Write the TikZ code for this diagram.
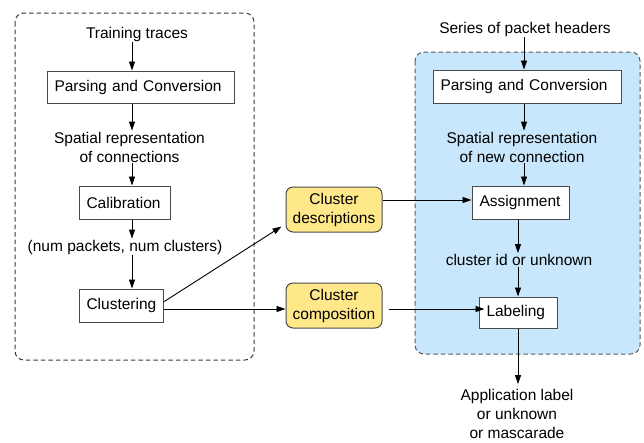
\documentclass[tikz,border=0pt]{standalone}
\usepackage{fontspec}
\setmainfont{Liberation Sans}
\usetikzlibrary{arrows.meta,calc}
\definecolor{boxline}{HTML}{4A4A4A}
\definecolor{noteyellow}{HTML}{FFE88A}
\definecolor{paneblue}{HTML}{C8E6FC}
\definecolor{dashgray}{HTML}{5A5A5A}
\definecolor{dashdark}{HTML}{3A3A3A}
\tikzset{
  % processing step: text set flush left with a fixed left padding
  stepbox/.style={draw=boxline, line width=1pt, fill=white, inner ysep=0pt,
                  inner xsep=7.5pt, align=left, text width=#1-15pt},
  notebox/.style={draw=boxline, line width=1pt, fill=noteyellow, rounded corners=7pt,
                  inner sep=0pt, align=center, minimum width=96pt, minimum height=45pt},
  lbl/.style={align=center, inner sep=1pt},
  arr/.style={-{Triangle[length=9pt,width=6pt]}, line width=0.9pt, black},
  frame/.style={dashed, dash pattern=on 4.5pt off 3pt, line width=1pt, rounded corners=9pt},
}
\begin{document}
\begin{tikzpicture}[x=1pt, y=-1pt, font=\fontsize{15.5}{19}\selectfont]
\useasboundingbox (0,0) rectangle (644,442);

% training pane and classification pane
\draw[frame, draw=dashdark] (15,13) rectangle (254,360);
\draw[frame, draw=dashgray, fill=paneblue] (415,52) rectangle (640,354);

% column guides for the vertical arrows
\coordinate (colL) at (132,0);
\coordinate (colR) at (524,0);
\coordinate (colR2) at (518,0);

% training side
\node[lbl] (trainT) at (137,34) {Training traces};
\node[stepbox=187pt, minimum height=32pt] (pc1) at (140.5,87) {Parsing and Conversion};
\node[lbl] (sp1) at (129.5,147) {Spatial representation\\of connections};
\node[stepbox=91pt, minimum height=33pt] (cal) at (124.5,202.5) {Calibration};
\node[lbl] (np) at (125,247) {(num packets, num clusters)};
\node[stepbox=84pt, minimum height=33pt] (clu) at (121,305.5) {Clustering};

\draw[arr] (trainT.south -| colL) -- (pc1.north -| colL);
\draw[arr] (pc1.south -| colL) -- (sp1.north -| colL);
\draw[arr] (sp1.south -| colL) -- (cal.north -| colL);
\draw[arr] (cal.south -| colL) -- (np.north -| colL);
\draw[arr] (np.south -| colL) -- (clu.north -| colL);

% results of clustering
\node[notebox] (cdesc) at (334,209.5) {Cluster\\descriptions};
\node[notebox] (ccomp) at (334,305.5) {Cluster\\composition};

\draw[arr] ([yshift=3.5pt]clu.east) -- ([xshift=-4pt,yshift=6pt]cdesc.south west);
\draw[arr] ([yshift=-3.5pt]clu.east) -- ([yshift=-3.5pt]ccomp.west);

% classification side
\node[lbl] (sph) at (525,29) {Series of packet headers};
\node[stepbox=188pt, minimum height=33pt] (pc2) at (527,86.5) {Parsing and Conversion};
\node[lbl] (sp2) at (522,147) {Spatial representation\\of new connection};
\node[stepbox=97pt, minimum height=33pt] (asg) at (520.5,202.5) {Assignment};
\node[lbl] (cid) at (519,260) {cluster id or unknown};
\node[stepbox=78pt, minimum height=31pt] (lab) at (518,312.5) {Labeling};
\node[lbl] (app) at (517,414) {Application label\\or unknown\\or mascarade};

\draw[arr] (sph.south -| colR) -- (pc2.north -| colR);
\draw[arr] (pc2.south -| colR) -- (sp2.north -| colR);
\draw[arr] (sp2.south -| colR) -- (asg.north -| colR);
\draw[arr] (asg.south -| colR2) -- (cid.north -| colR2);
\draw[arr] (cid.south -| colR2) -- (lab.north -| colR2);
\draw[arr] (lab.south -| colR2) -- ([yshift=4pt]app.north -| colR2);

\draw[arr] ([yshift=9.5pt]cdesc.east) -- ([yshift=9.5pt]cdesc.east -| asg.west);
\draw[arr] ([xshift=6pt,yshift=-3.5pt]ccomp.east) -- ([xshift=6pt,yshift=-3.5pt]ccomp.east -| lab.west);
\end{tikzpicture}
\end{document}
